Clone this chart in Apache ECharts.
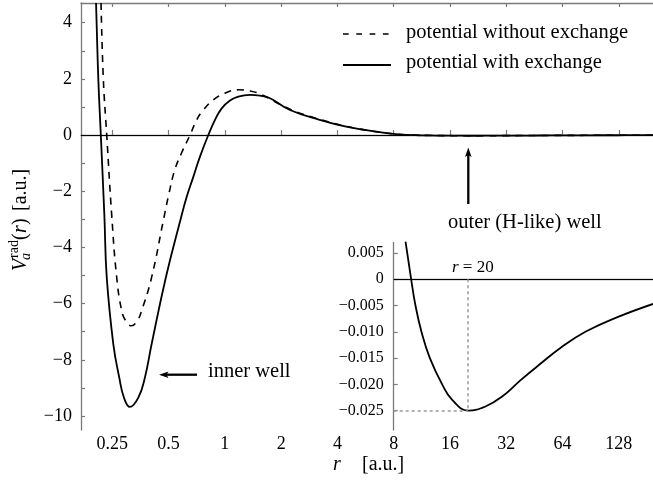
<!DOCTYPE html>
<html>
<head>
<meta charset="utf-8">
<script src="https://cdn.jsdelivr.net/npm/echarts@6/dist/echarts.min.js"></script>
<style>
html,body{margin:0;padding:0;background:#fff}
#chart{width:653px;height:483px}
</style>
</head>
<body>
<div id="chart"></div>
<script>
// values: r [a.u.] and V [a.u.]
var rWith = [0.2046, 0.2104, 0.2170, 0.2267, 0.2334, 0.2531, 0.2723, 0.2887, 0.3104, 0.3444, 0.3736, 0.4058, 0.4837, 0.5775, 0.625, 0.678, 0.736, 0.8155, 0.8855, 0.962, 1.065, 1.180, 1.363, 1.541, 1.744, 2.230, 3.211, 4.458, 6.712, 8.24];
var vWith = [4.7, 2.0, 0, -2.86, -5.06, -7.44, -8.63, -9.35, -9.68, -9.35, -8.63, -7.44, -5.06, -3.04, -2.20, -1.49, -0.77, 0, 0.54, 0.95, 1.23, 1.37, 1.43, 1.40, 1.31, 0.89, 0.54, 0.30, 0.10, 0.035];
var rWithout = [0.2176, 0.2238, 0.2334, 0.2482, 0.2638, 0.2806, 0.2948, 0.3167, 0.3401, 0.3588, 0.4058, 0.4726, 0.5025, 0.539, 0.5855, 0.651, 0.707, 0.7668, 0.8672, 1.0015, 1.180, 1.363, 1.541, 2.230, 3.211, 4.458, 6.712, 8.24];
var vWithout = [4.7, 2.0, 0, -2.86, -5.06, -6.25, -6.61, -6.79, -6.61, -6.25, -5.06, -2.92, -2.08, -1.25, -0.65, 0, 0.54, 0.89, 1.25, 1.49, 1.61, 1.57, 1.46, 0.92, 0.56, 0.31, 0.10, 0.035];
// outer (H-like) well, same curve for both potentials at this scale
var rOuter = [9.25, 9.92, 10.46, 11.26, 12.49, 14.53, 16.44, 20, 24.78, 30.43, 38.2, 47.98, 63.1, 85.3, 125.8, 195];
var vOuter = [0.0072, 0, -0.005, -0.010, -0.015, -0.020, -0.02295, -0.025, -0.02422, -0.02232, -0.0192, -0.01629, -0.01293, -0.00996, -0.00722, -0.0047];

var xTicks = [0.25, 0.5, 1, 2, 4, 8, 16, 32, 64, 128];
var yTicks = [-10, -9, -8, -7, -6, -5, -4, -3, -2, -1, 0, 1, 2, 3, 4];
var yLabels = [-10, -8, -6, -4, -2, 0, 2, 4];
var insetTicks = [-0.025, -0.020, -0.015, -0.010, -0.005, 0, 0.005];

var serif = "'Liberation Serif', 'Times New Roman', serif";
var axisGray = '#7a7a7a';

function zip(xs, ys) {
    var out = [];
    xs.forEach(function (x, i) { out.push([x, ys[i]]); });
    return out;
}
function minus(s) { return String(s).replace('-', '\u2212'); }

var xMin = 0.17, xMax = 195;
var gridLeft = 81, gridRight = 653;
var insetMin = 8;
var insetLeft = gridLeft + (gridRight - gridLeft) * Math.log2(insetMin / xMin) / Math.log2(xMax / xMin);

// position of the outer minimum for the guide lines
var iMin = 0;
vOuter.forEach(function (v, i) { if (v < vOuter[iMin]) iMin = i; });
var rMin = rOuter[iMin], vMin = vOuter[iMin];

var chart = echarts.init(document.getElementById('chart'), null, {renderer: 'canvas'});

var option = {
    animation: false,
    backgroundColor: '#fff',
    grid: [
        {left: gridLeft, top: 3, right: 0, bottom: 53, outerBoundsMode: 'none'},
        {left: insetLeft, top: 242.5, right: 0, bottom: 53, outerBoundsMode: 'none'}
    ],
    xAxis: [
        {
            type: 'log', logBase: 2, gridIndex: 0, position: 'bottom',
            min: xMin, max: xMax,
            axisLine: {lineStyle: {color: axisGray, width: 1.3}},
            axisTick: {inside: true, length: 5, customValues: xTicks, lineStyle: {color: axisGray, width: 1.2}},
            axisLabel: {customValues: xTicks, margin: 5, color: '#000', fontFamily: serif, fontSize: 18,
                formatter: function (v) { return String(v); }},
            splitLine: {show: false}
        },
        {
            type: 'log', logBase: 2, gridIndex: 0, position: 'top',
            min: xMin, max: xMax,
            axisLine: {lineStyle: {color: axisGray, width: 1.3}},
            axisTick: {inside: true, length: 4, customValues: xTicks, lineStyle: {color: axisGray, width: 1.2}},
            axisLabel: {show: false},
            splitLine: {show: false}
        },
        {
            type: 'log', logBase: 2, gridIndex: 1, position: 'top',
            min: insetMin, max: xMax,
            axisLine: {lineStyle: {color: axisGray, width: 1.3}},
            axisTick: {show: false},
            axisLabel: {show: false},
            splitLine: {show: false}
        }
    ],
    yAxis: [
        {
            type: 'value', gridIndex: 0, min: -10.5, max: 4.7,
            axisLine: {show: true, lineStyle: {color: axisGray, width: 1.3}},
            axisTick: {show: true, inside: true, length: 4, customValues: yTicks, lineStyle: {color: axisGray, width: 1.2}},
            axisLabel: {customValues: yLabels, margin: 9, color: '#000', fontFamily: serif, fontSize: 18,
                formatter: function (v) { return minus(v); }},
            splitLine: {show: false}
        },
        {
            type: 'value', gridIndex: 1, min: -0.0287, max: 0.0070,
            axisLine: {show: true, lineStyle: {color: axisGray, width: 1.3}},
            axisTick: {show: true, inside: true, length: 4, customValues: insetTicks, lineStyle: {color: axisGray, width: 1.2}},
            axisLabel: {customValues: insetTicks, margin: 10, color: '#000', fontFamily: serif, fontSize: 16,
                formatter: function (v) {
                    if (Math.abs(v) < 1e-9) return '0';
                    return minus((v < 0 ? '-' : '') + Math.abs(v).toFixed(3));
                }},
            splitLine: {show: false}
        }
    ],
    series: [
        {
            name: 'potential without exchange', type: 'line',
            xAxisIndex: 0, yAxisIndex: 0,
            data: zip(rWithout, vWithout).concat(zip(rOuter, vOuter)),
            showSymbol: false, smooth: 0.45, silent: true,
            lineStyle: {color: '#000', width: 1.6, type: [7, 6]}
        },
        {
            name: 'potential with exchange', type: 'line',
            xAxisIndex: 0, yAxisIndex: 0,
            data: zip(rWith, vWith).concat(zip(rOuter, vOuter)),
            showSymbol: false, smooth: 0.45, silent: true,
            lineStyle: {color: '#000', width: 1.8},
            markLine: {
                silent: true, symbol: 'none', label: {show: false},
                lineStyle: {color: '#000', width: 1.2, type: 'solid'},
                data: [{yAxis: 0}]
            }
        },
        {
            name: 'outer well', type: 'line',
            xAxisIndex: 2, yAxisIndex: 1,
            data: zip(rOuter, vOuter),
            showSymbol: false, smooth: 0.45, silent: true,
            lineStyle: {color: '#000', width: 1.8},
            markLine: {
                silent: true, symbol: 'none', label: {show: false},
                lineStyle: {color: '#000', width: 1.2, type: 'solid'},
                data: [
                    {yAxis: 0},
                    [{coord: [rMin, 0], lineStyle: {color: '#999', width: 1.5, type: [3, 3]}}, {coord: [rMin, vMin]}],
                    [{coord: [insetMin, vMin], lineStyle: {color: '#999', width: 1.5, type: [3, 3]}}, {coord: [rMin, vMin]}]
                ]
            }
        }
    ],
    graphic: [
        // legend
        {type: 'line', shape: {x1: 343, y1: 34, x2: 391, y2: 34}, style: {stroke: '#000', lineWidth: 1.6, lineDash: [5.7, 7.6]}},
        {type: 'text', x: 406, y: 33, style: {text: 'potential without exchange', fontFamily: serif, fontSize: 20.5, fill: '#000', verticalAlign: 'middle'}},
        {type: 'line', shape: {x1: 343, y1: 65, x2: 391, y2: 65}, style: {stroke: '#000', lineWidth: 2}},
        {type: 'text', x: 406, y: 63, style: {text: 'potential with exchange', fontFamily: serif, fontSize: 20.5, fill: '#000', verticalAlign: 'middle'}},
        // inner well arrow
        {type: 'line', shape: {x1: 197, y1: 374.7, x2: 165, y2: 374.7}, style: {stroke: '#000', lineWidth: 2.3}},
        {type: 'polygon', shape: {points: [[159, 374.7], [168.5, 371.4], [166.5, 374.7], [168.5, 378]]}, style: {fill: '#000'}},
        {type: 'text', x: 208, y: 372, style: {text: 'inner well', fontFamily: serif, fontSize: 20.5, fill: '#000', verticalAlign: 'middle'}},
        // outer well arrow
        {type: 'line', shape: {x1: 468.3, y1: 204, x2: 468.3, y2: 153}, style: {stroke: '#000', lineWidth: 2.3}},
        {type: 'polygon', shape: {points: [[468.3, 147.5], [465, 157], [468.3, 155], [471.6, 157]]}, style: {fill: '#000'}},
        {type: 'text', x: 448, y: 223, style: {text: 'outer (H-like) well', fontFamily: serif, fontSize: 20.5, fill: '#000', verticalAlign: 'middle'}},
        // r = 20 marker label
        {type: 'text', x: 452, y: 268, style: {
            text: '{i|r} = 20', fontFamily: serif, fontSize: 17, fill: '#000', verticalAlign: 'middle',
            rich: {i: {fontFamily: serif, fontSize: 17, fontStyle: 'italic'}}
        }},
        // x axis title
        {type: 'text', x: 333, y: 465, style: {text: 'r', fontFamily: serif, fontSize: 20, fontStyle: 'italic', fill: '#000', verticalAlign: 'middle'}},
        {type: 'text', x: 362, y: 465, style: {text: '[a.u.]', fontFamily: serif, fontSize: 20, fill: '#000', verticalAlign: 'middle'}},
        // y axis title, rotated
        {
            type: 'group', x: 21, y: 271, rotation: Math.PI / 2,
            children: [
                {type: 'text', x: 0, y: 0, style: {text: 'V', fontFamily: serif, fontSize: 20, fontStyle: 'italic', fill: '#000', verticalAlign: 'middle'}},
                {type: 'text', x: 11, y: 5, style: {text: 'a', fontFamily: serif, fontSize: 14, fontStyle: 'italic', fill: '#000', verticalAlign: 'middle'}},
                {type: 'text', x: 13, y: -7, style: {text: 'rad', fontFamily: serif, fontSize: 14, fill: '#000', verticalAlign: 'middle'}},
                {type: 'text', x: 31, y: 0, style: {text: '(', fontFamily: serif, fontSize: 20, fill: '#000', verticalAlign: 'middle'}},
                {type: 'text', x: 38, y: 0, style: {text: 'r', fontFamily: serif, fontSize: 20, fontStyle: 'italic', fill: '#000', verticalAlign: 'middle'}},
                {type: 'text', x: 46, y: 0, style: {text: ')', fontFamily: serif, fontSize: 20, fill: '#000', verticalAlign: 'middle'}},
                {type: 'text', x: 60, y: 0, style: {text: '[a.u.]', fontFamily: serif, fontSize: 20, fill: '#000', verticalAlign: 'middle'}}
            ]
        }
    ]
};

chart.setOption(option);
</script>
</body>
</html>
